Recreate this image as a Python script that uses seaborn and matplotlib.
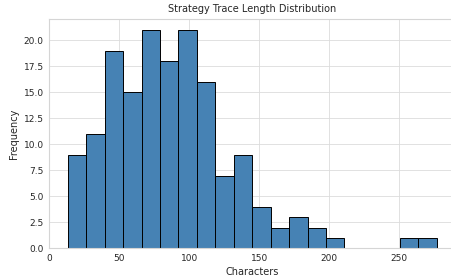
import numpy as np
import pandas as pd
import matplotlib
matplotlib.use("Agg")
import matplotlib.pyplot as plt
import seaborn as sns

# Histogram counts per bin
counts = [9, 11, 19, 15, 21, 18, 21, 16, 7, 9, 4, 2, 3, 2, 1, 0, 0, 0, 1, 1]
min_len, max_len = 13.1, 276.7

edges = np.linspace(min_len, max_len, len(counts) + 1)
df = pd.DataFrame({"length": (edges[:-1] + edges[1:]) / 2, "count": counts})

sns.set_theme(style="whitegrid", rc={"grid.linewidth": 0.6, "grid.color": "#dcdcdc",
                                     "axes.linewidth": 0.8, "axes.edgecolor": "#d5d5d5"})
fig = plt.figure(figsize=(4.52, 2.79), dpi=100)
ax = fig.add_axes([0.109, 0.110, 0.898, 0.822])

sns.histplot(data=df, x="length", weights="count", bins=len(counts),
             binrange=(min_len, max_len), color="steelblue",
             edgecolor="black", alpha=1.0, linewidth=0.7, ax=ax)

ax.set_title("Strategy Trace Length Distribution", fontsize=7, pad=5)
ax.set_xlabel("Characters", fontsize=7, labelpad=3)
ax.set_ylabel("Frequency", fontsize=7, labelpad=3)
ax.tick_params(labelsize=6.5, length=0, pad=4)
ax.set_xticks([0, 50, 100, 150, 200, 250])
ax.set_yticks(np.arange(0, 22.5, 2.5))
ax.yaxis.set_major_formatter(matplotlib.ticker.FormatStrFormatter("%.1f"))

fig.savefig("out.png", dpi=100)
